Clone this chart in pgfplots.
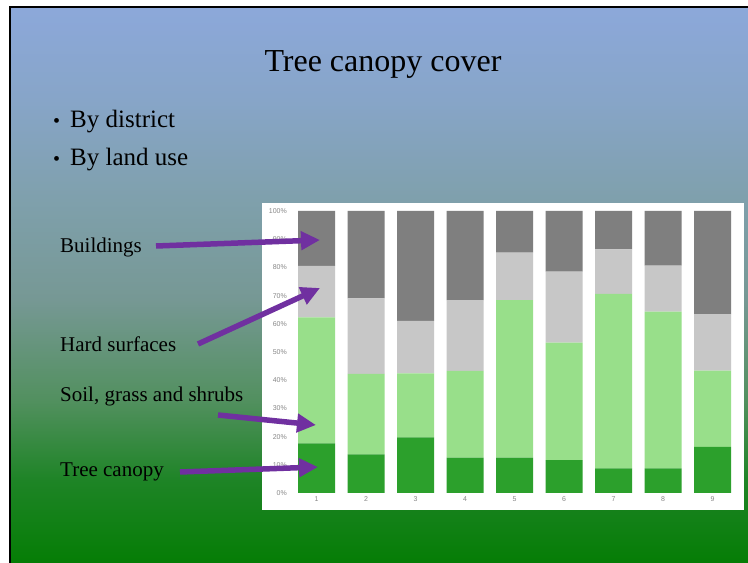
\documentclass[border=0pt]{standalone}
\usepackage{pgfplots}
\pgfplotsset{compat=1.18}
\usepackage{fontspec}
\setmainfont{Liberation Serif}
\newfontfamily\chartfont{Liberation Sans}
\usetikzlibrary{arrows.meta}
\definecolor{treec}{RGB}{44,160,44}
\definecolor{soilc}{RGB}{152,223,138}
\definecolor{hardc}{RGB}{199,199,199}
\definecolor{bldc}{RGB}{127,127,127}
\definecolor{arrowc}{RGB}{112,48,160}
\definecolor{tickc}{RGB}{135,135,135}
\definecolor{bgA}{RGB}{5,125,5}
\definecolor{bgB}{RGB}{30,132,38}
\definecolor{bgC}{RGB}{82,144,95}
\definecolor{bgD}{RGB}{118,152,148}
\definecolor{bgE}{RGB}{127,160,172}
\definecolor{bgF}{RGB}{135,165,200}
\definecolor{bgG}{RGB}{140,168,218}
\pgfdeclareverticalshading{slidebg}{100bp}{color(0bp)=(bgA); color(25bp)=(bgA); color(32.45bp)=(bgB); color(39.65bp)=(bgC); color(48.65bp)=(bgD); color(57.65bp)=(bgE); color(66.65bp)=(bgF); color(75bp)=(bgG); color(100bp)=(bgG)}
\begin{document}
\begin{tikzpicture}[x=1pt,y=1pt]
\path[use as bounding box] (0,0) rectangle (748,563);
\fill[white] (0,0) rectangle (748,563);
\shade[shading=slidebg] (10,0) rectangle (748,556);
\draw[black, line width=2pt] (10,0) -- (10,556) -- (748,556);
\fill[white] (262,53) rectangle (744,360);
\begin{axis}[
  at={(289.3pt,70pt)}, anchor=south west,
  scale only axis, width=447.975pt, height=282pt,
  xmin=0.45, xmax=9.5, ymin=0, ymax=100,
  ybar stacked, bar width=37pt,
  axis line style={draw=none},
  major tick length=0pt,
  xtick={1,...,9},
  ytick={0,10,...,100},
  /pgf/number format/assume math mode=true,
  yticklabel={\pgfmathprintnumber{\tick}\%},
  tick label style={font=\chartfont\fontsize{7}{8}\selectfont, text=tickc},
  yticklabel style={xshift=1pt},
  clip=false,
]
\addplot[fill=treec, draw=none] coordinates {(1,17.6) (2,13.7) (3,19.7) (4,12.5) (5,12.5) (6,11.7) (7,8.7) (8,8.7) (9,16.4)};
\addplot[fill=soilc, draw=none] coordinates {(1,44.7) (2,28.5) (3,22.7) (4,30.8) (5,55.9) (6,41.6) (7,61.9) (8,55.6) (9,27.0)};
\addplot[fill=hardc, draw=none] coordinates {(1,18.2) (2,26.8) (3,18.6) (4,25.1) (5,16.8) (6,25.2) (7,15.8) (8,16.3) (9,20.0)};
\addplot[fill=bldc, draw=none] coordinates {(1,19.5) (2,31.0) (3,39.0) (4,31.6) (5,14.8) (6,21.5) (7,13.6) (8,19.4) (9,36.6)};
\end{axis}
\node[anchor=base, inner sep=0] at (383,491) {\fontsize{32}{36}\selectfont Tree canopy cover};
\node[anchor=base west, inner sep=0] at (53,435) {\fontsize{20}{24}\selectfont \textbullet};
\node[anchor=base west, inner sep=0] at (70,435) {\fontsize{25}{30}\selectfont By district};
\node[anchor=base west, inner sep=0] at (53,397) {\fontsize{20}{24}\selectfont \textbullet};
\node[anchor=base west, inner sep=0] at (70,397) {\fontsize{25}{30}\selectfont By land use};
\node[anchor=base west, inner sep=0] at (60,310.7) {\fontsize{21}{25}\selectfont Buildings};
\node[anchor=base west, inner sep=0] at (60,211.3) {\fontsize{21}{25}\selectfont Hard surfaces};
\node[anchor=base west, inner sep=0] at (60,161.3) {\fontsize{21}{25}\selectfont Soil, grass and shrubs};
\node[anchor=base west, inner sep=0] at (60,86.3) {\fontsize{21}{25}\selectfont Tree canopy};
\draw[arrowc, line width=5.5pt, -{Triangle[length=19pt,width=18pt]}] (156,317) -- (320,323);
\draw[arrowc, line width=5.5pt, -{Triangle[length=19pt,width=18pt]}] (198,219) -- (320,275);
\draw[arrowc, line width=5.5pt, -{Triangle[length=19pt,width=18pt]}] (218,148) -- (316,138);
\draw[arrowc, line width=5.5pt, -{Triangle[length=19pt,width=18pt]}] (180,91) -- (318,96);
\end{tikzpicture}
\end{document}
